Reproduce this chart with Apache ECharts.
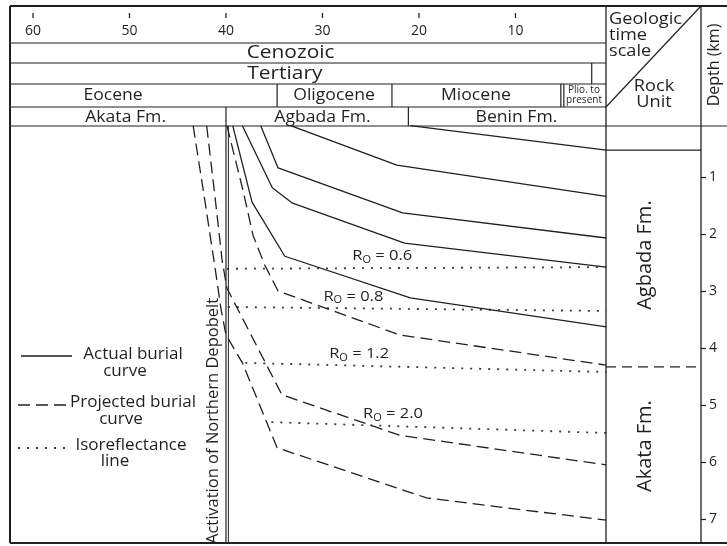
<!DOCTYPE html>
<html><head><meta charset="utf-8">
<script src="https://cdn.jsdelivr.net/npm/echarts@6.0.0/dist/echarts.min.js"></script>
<style>html,body{margin:0;padding:0;background:#fff}#c{width:727px;height:546px}</style>
</head><body><div id="c"></div>
<script>
// ---------- data (age in Ma, depth in km) ----------
const ageTicks = [60, 50, 40, 30, 20, 10];
const depthTicks = [1, 2, 3, 4, 5, 6, 7];

const actualBurial = [
  [[20.9, 0.10], [0.6, 0.53]],
  [[33.3, 0.10], [22.3, 0.79], [0.6, 1.34]],
  [[36.4, 0.10], [34.6, 0.84], [21.7, 1.63], [0.6, 2.07]],
  [[38.3, 0.10], [35.2, 1.19], [33.1, 1.46], [21.5, 2.16], [0.6, 2.58]],
  [[39.3, 0.10], [37.3, 1.44], [33.9, 2.39], [20.9, 3.12], [0.6, 3.63]]
];
const projectedBurial = [
  [[39.9, 0.10], [38.2, 1.26], [37.2, 2.02], [36.0, 2.54], [34.6, 3.00], [22.0, 3.77], [0.6, 4.30]],
  [[42.0, 0.10], [41.1, 1.40], [40.4, 2.46], [39.9, 2.95], [34.2, 4.82], [22.0, 5.53], [0.6, 6.05]],
  [[43.4, 0.10], [42.2, 1.40], [41.1, 2.63], [40.5, 3.33], [40.0, 3.77], [38.3, 4.26], [34.7, 5.75], [19.2, 6.63], [0.6, 7.02]]
];
const isoValues = ['0.6', '0.8', '1.2', '2.0'];
const isoLines = [
  [[39.9, 2.61], [0.6, 2.58]],
  [[39.8, 3.28], [0.6, 3.35]],
  [[38.0, 4.26], [0.6, 4.42]],
  [[35.3, 5.30], [0.6, 5.49]]
];
const eraName = 'Cenozoic';
const periodName = 'Tertiary';
const tertiaryEnd = 2.1;
const epochNames = ['Eocene', 'Oligocene', 'Miocene', 'Plio. to\npresent'];
const epochBounds = [34.7, 22.8, 5.3];
const formationNames = ['Akata Fm.', 'Agbada Fm.', 'Benin Fm.'];
const formationBounds = [40.0, 21.1];
const depobeltAge = 40.0;
const depobeltName = 'Activation of Northern Depobelt';
const rockUnitNames = ['Agbada Fm.', 'Akata Fm.'];
const rockUnitTops = [0.53, 4.33];
const legendNames = [['Actual burial', 'curve'], ['Projected burial', 'curve'], ['Isoreflectance', 'line']];

// ---------- layout ----------
const LAYOUT = {
  eraLabelAge: 33.3, periodLabelAge: 33.9,
  epochLabelAge: [51.7, 28.8, 14.1, 2.9],
  formationLabelAge: [50.4, 30.0, 9.9],
  isoLabelAge: [23.8, 26.8, 26.2, 22.7],
  rockLabelDepth: [2.37, 5.72]
};
const INK = '#231f20';
const FONT = '"Open Sans", sans-serif';
const SX = 1.1;
const X_MIN = 0.62, X_MAX = 62.38, Y_MAX = 7.42;

const chart = echarts.init(document.getElementById('c'));

const series = [];
actualBurial.forEach(d => series.push({
  type: 'line', name: 'Actual burial curve', data: d, symbol: 'none', silent: true, z: 3,
  lineStyle: { color: INK, width: 1.3, type: 'solid' }
}));
projectedBurial.forEach(d => series.push({
  type: 'line', name: 'Projected burial curve', data: d, symbol: 'none', silent: true, z: 3,
  lineStyle: { color: INK, width: 1.3, type: [12, 6] }
}));
isoLines.forEach(d => series.push({
  type: 'line', name: 'Isoreflectance line', data: d, symbol: 'none', silent: true, z: 2,
  lineStyle: { color: '#3a3a3a', width: 1.8, type: [2, 7] }
}));

chart.setOption({
  animation: false,
  grid: { left: 10, right: 121, top: 120, bottom: 3, containLabel: false },
  xAxis: {
    type: 'value', position: 'top', inverse: true, min: X_MIN, max: X_MAX, offset: 107,
    axisLine: { show: false }, splitLine: { show: false }, axisTick: { show: false },
    axisLabel: { show: true, inside: true, margin: 11, customValues: ageTicks, color: INK, fontFamily: FONT, fontSize: 14 }
  },
  yAxis: {
    type: 'value', position: 'right', inverse: true, min: 0, max: Y_MAX, offset: 95,
    axisLine: { show: false }, splitLine: { show: false },
    axisTick: { show: true, length: 5, customValues: depthTicks, lineStyle: { color: INK, width: 1.2 } },
    axisLabel: { show: true, margin: 8, customValues: depthTicks, color: INK, fontFamily: FONT, fontSize: 14 }
  },
  series
});

// ---------- frame, time scale and annotations ----------
const px = a => chart.convertToPixel({ xAxisIndex: 0 }, a);
const py = d => chart.convertToPixel({ yAxisIndex: 0 }, d);
const G = [];
function ln(x1, y1, x2, y2, w, dash) {
  G.push({ type: 'line', silent: true, z: 10, shape: { x1, y1, x2, y2 },
    style: { stroke: INK, lineWidth: w || 1.2, lineDash: dash || null } });
}
function tx(x, y, text, size, o) {
  o = o || {};
  G.push({ type: 'text', silent: true, z: 10, x, y, rotation: o.rot || 0, scaleX: o.sx || (o.rot ? 1 : SX),
    style: { text, fill: INK, fontFamily: FONT, fontSize: size, align: o.align || 'center',
      verticalAlign: o.va || 'middle', lineHeight: o.lh || Math.round(size * 1.2) } });
}
const L = 10, R = px(X_MIN), RU = 701, RE = 727, T = 6, B = 543;
const rows = [43, 63, 84, 107, 126];

ln(L, T, RE, T, 2); ln(L, B, RE, B, 2); ln(L, T, L, B, 2);
rows.forEach((y, i) => ln(L, y, i === 4 ? RE : R, y, 1.2));
ln(R, T, R, B, 1.3); ln(RU, T, RU, B, 1.3);
ln(R, rows[3], RU, T, 1.2);
// time-axis ticks (placed by the x axis scale)
ageTicks.forEach(v => ln(px(v), 13, px(v), 18, 1.3));
ln(px(tertiaryEnd), rows[1], px(tertiaryEnd), rows[2]);
epochBounds.forEach((b, i) => {
  ln(px(b), rows[2], px(b), rows[3]);
  if (i === epochBounds.length - 1) ln(px(b) + 3, rows[2], px(b) + 3, rows[3]);
});
ln(px(formationBounds[1]), rows[3], px(formationBounds[1]), rows[4]);
ln(px(depobeltAge), rows[3], px(depobeltAge), B, 1.2);
ln(px(depobeltAge) + 2.4, rows[4], px(depobeltAge) + 2.4, B, 1.0);
ln(R, py(rockUnitTops[0]), RU, py(rockUnitTops[0]), 1.2);
ln(R, py(rockUnitTops[1]), RU, py(rockUnitTops[1]), 1.3, [10, 6]);

tx(px(LAYOUT.eraLabelAge), 53, eraName, 19);
tx(px(LAYOUT.periodLabelAge), 73.5, periodName, 19);
epochNames.forEach((n, i) => {
  if (i === 3) tx(px(LAYOUT.epochLabelAge[i]), 95.5, n, 10, { lh: 10, sx: 1 });
  else tx(px(LAYOUT.epochLabelAge[i]), 95.5, n, 16);
});
formationNames.forEach((n, i) => tx(px(LAYOUT.formationLabelAge[i]), 117, n, 16));
tx(609, 11, 'Geologic\ntime\nscale', 16.5, { align: 'left', va: 'top', lh: 16 });
tx(654, 94, 'Rock\nUnit', 16.5, { lh: 16 });
tx(714, 65, 'Depth (km)', 16, { rot: Math.PI / 2 });
rockUnitNames.forEach((n, i) => tx(645, py(LAYOUT.rockLabelDepth[i]), n, 20, { rot: Math.PI / 2 }));
tx(px(depobeltAge) - 13, 421, depobeltName, 16.5, { rot: Math.PI / 2 });

// iso labels
isoLines.forEach((d, i) => {
  const a = LAYOUT.isoLabelAge[i];
  const f = (d[0][0] - a) / (d[0][0] - d[1][0]);
  const dep = d[0][1] + f * (d[1][1] - d[0][1]);
  G.push({ type: 'text', silent: true, z: 11, x: px(a), y: py(dep) - 12, scaleX: SX,
    style: { text: '{a|R}{b|O}{a| = ' + isoValues[i] + '}', align: 'center', verticalAlign: 'middle',
      rich: { a: { fontSize: 15, fontFamily: FONT, fill: INK, lineHeight: 18 },
              b: { fontSize: 10, fontFamily: FONT, fill: INK, lineHeight: 18, padding: [8, 0, 0, 0] } } } });
});

// legend
const legY = [356, 405, 448];
ln(21, legY[0], 72, legY[0], 1.3);
ln(18, legY[1], 66, legY[1], 1.3, [12, 6]);
G.push({ type: 'line', silent: true, z: 10, shape: { x1: 18, y1: legY[2], x2: 66, y2: legY[2] },
  style: { stroke: '#3a3a3a', lineWidth: 1.8, lineDash: [2, 7] } });
tx(133, 355, legendNames[0][0], 15.5); tx(125, 372, legendNames[0][1], 15.5);
tx(133, 403, legendNames[1][0], 15.5); tx(121, 420, legendNames[1][1], 15.5);
tx(131, 446, legendNames[2][0], 15.5); tx(115, 462, legendNames[2][1], 15.5);

chart.setOption({ graphic: G });
</script></body></html>
